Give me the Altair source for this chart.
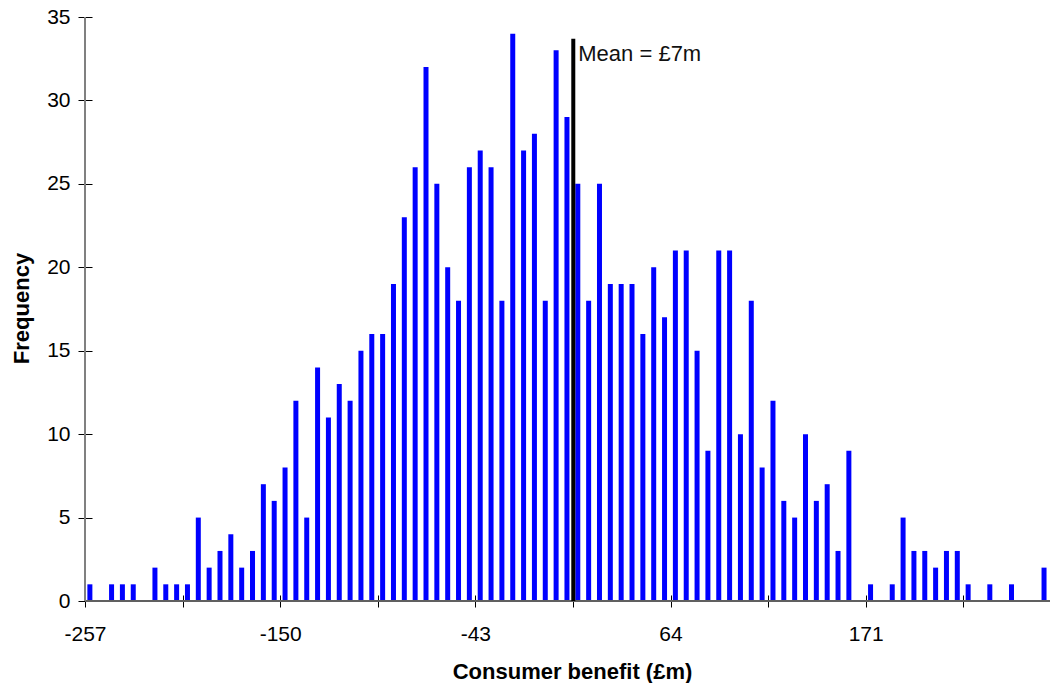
import altair as alt
import pandas as pd

# ---- data ----
# frequency per bin (89 bins, left to right)
frequency = [
    1, 0, 1, 1, 1, 0, 2, 1, 1, 1,
    5, 2, 3, 4, 2, 3, 7, 6, 8, 12,
    5, 14, 11, 13, 12, 15, 16, 16, 19, 23,
    26, 32, 25, 20, 18, 26, 27, 26, 18, 34,
    27, 28, 18, 33, 29, 25, 18, 25, 19, 19,
    19, 16, 20, 17, 21, 21, 15, 9, 21, 21,
    10, 18, 8, 12, 6, 5, 10, 6, 7, 3,
    9, 0, 1, 0, 1, 5, 3, 3, 2, 3,
    3, 1, 0, 1, 0, 1, 0, 0, 2,
]
x_tick_labels = [-257, -150, -43, 64, 171]   # labelled ticks (every 18 bins)
bins_per_label = 18
bins_per_tick = 9
y_ticks = [0, 5, 10, 15, 20, 25, 30, 35]
mean_line_x = 10.7        # where the mean line is drawn on the axis (£m)
mean_line_top = 33.7      # top of the mean line (frequency units)
mean_text = "Mean = £7m"

# ---- derived table ----
bin_width = (x_tick_labels[1] - x_tick_labels[0]) / bins_per_label
x_start = x_tick_labels[0]
n_bins = len(frequency)
df = pd.DataFrame({
    "centre": [x_start + (i + 0.45) * bin_width for i in range(n_bins)],
    "freq": frequency,
})
x_end = x_start + n_bins * bin_width
tick_step = bin_width * bins_per_tick
tick_values = []
v = x_start
while v < x_end - 1e-9:
    tick_values.append(round(v, 6))
    v += tick_step

FONT = "Liberation Sans"
labels_js = "[" + ",".join(str(l) for l in x_tick_labels) + "]"

x_scale = alt.Scale(domain=[x_start, x_end], nice=False, zero=False, padding=0)
y_scale = alt.Scale(domain=[0, 35], nice=False, padding=0)

x_axis = alt.Axis(
    values=tick_values,
    labelExpr=f"indexof({labels_js}, datum.value) >= 0 ? '' + datum.value : ''",
    labelOverlap=False, labelFlush=False,
    offset=-6, tickSize=12, tickColor="black", tickWidth=1,
    domain=False, grid=False,
    labelFont=FONT, labelFontSize=21, labelColor="black", labelPadding=16,
    title="Consumer benefit (£m)", titleFont=FONT, titleFontSize=22,
    titleFontWeight="bold", titleColor="black",
    titleX=487, titleY=83, titleBaseline="alphabetic", titleAlign="center",
)
y_axis = alt.Axis(
    values=y_ticks, format="d",
    offset=-7, tickSize=14, tickColor="black", tickWidth=1,
    domain=False, grid=False,
    labelFont=FONT, labelFontSize=21, labelColor="black", labelPadding=8,
    title="Frequency", titleFont=FONT, titleFontSize=22,
    titleFontWeight="bold", titleColor="black",
    titleAngle=270, titleX=-71, titleY=291, titleBaseline="middle",
    titleAlign="center",
)

bars = alt.Chart(df).mark_bar(size=5, color="#0000FF").encode(
    x=alt.X("centre:Q", scale=x_scale, axis=x_axis),
    y=alt.Y("freq:Q", scale=y_scale, axis=y_axis),
)

one = pd.DataFrame({"a": [0]})
x_line = alt.Chart(one).mark_rule(color="#606060", strokeWidth=2).encode(
    y=alt.datum(0)
)
y_line = alt.Chart(one).mark_rule(color="#808080", strokeWidth=2).encode(
    x=alt.datum(x_start)
)
mean_rule = alt.Chart(one).mark_rule(color="black", strokeWidth=4).encode(
    x=alt.datum(mean_line_x), y=alt.datum(0), y2=alt.datum(mean_line_top)
)
mean_label = alt.Chart(one).mark_text(
    align="left", baseline="alphabetic", dx=5, dy=22.4,
    font=FONT, fontSize=22, color="#111111",
).encode(
    x=alt.datum(mean_line_x), y=alt.datum(mean_line_top), text=alt.value(mean_text)
)

chart = alt.layer(bars, x_line, y_line, mean_rule, mean_label).properties(
    width=965, height=584,
    autosize=alt.AutoSizeParams(type="none"),
    padding={"left": 85, "top": 17, "right": 4, "bottom": 82},
    background="white",
).configure_view(strokeWidth=0)

chart.save("out.html", embed_options={"renderer": "svg", "actions": False})
